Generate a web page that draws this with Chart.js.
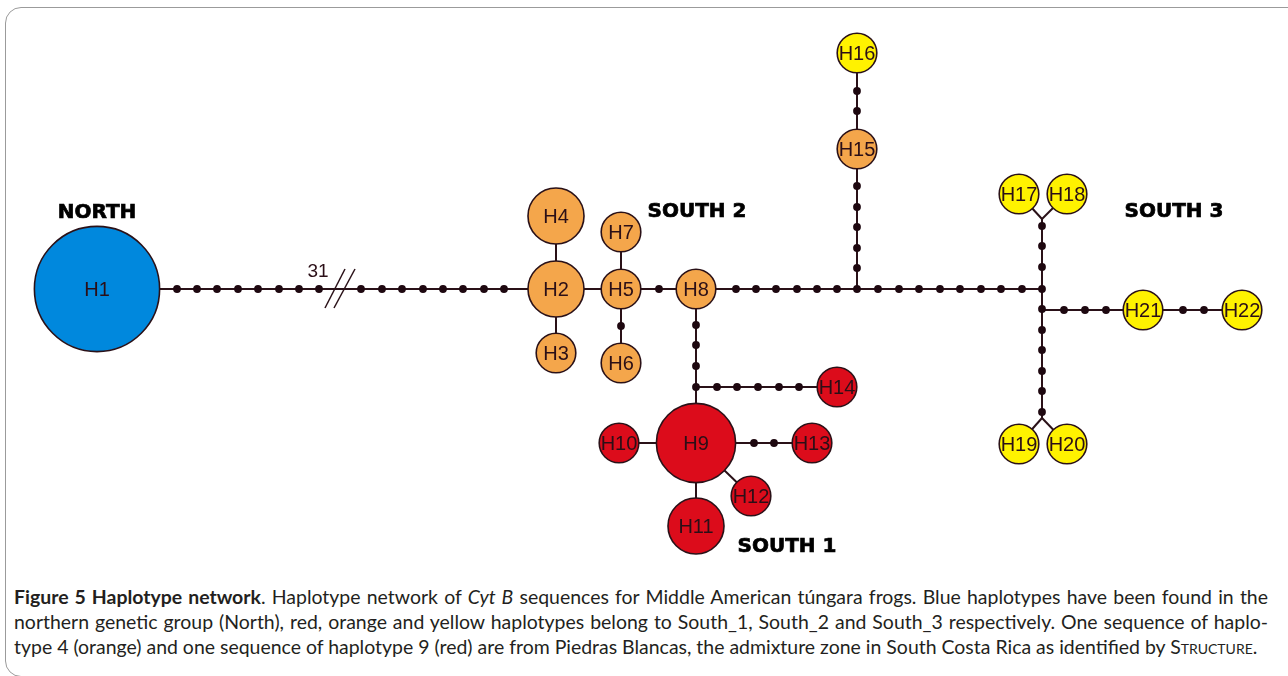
<!DOCTYPE html>
<html>
<head>
<meta charset="utf-8">
<title>Haplotype network</title>
<script src="https://cdn.jsdelivr.net/npm/chart.js@4.4.1/dist/chart.umd.min.js"></script>
<style>
  html, body { margin: 0; padding: 0; background: #fff; }
  body { width: 1288px; height: 676px; position: relative; overflow: hidden; }
  .frame {
    position: absolute; left: 5px; top: 7px; width: 1310px; height: 670px;
    border: 1px solid #9b9b9b; border-radius: 16px; box-sizing: border-box;
  }
  #networkChart { position: absolute; left: 0; top: 0; }
  .caption {
    position: absolute; left: 14px; top: 584px; width: 1260px;
    font-family: Lato, 'Open Sans', sans-serif; font-size: 16px; color: #231f20;
  }
  .caption .line { white-space: nowrap; line-height: 25px; height: 25px; }
  .caption .line span { display: inline-block; }
  .caption b { font-weight: 700; }
  .sc { font-variant: small-caps; }
</style>
</head>
<body>
<div class="frame"></div>
<canvas id="networkChart" width="1288" height="570"></canvas>
<div class="caption">
  <div class="line"><span><b>Figure 5 Haplotype network</b>. Haplotype network of <i>Cyt B</i> sequences for Middle American túngara frogs. Blue haplotypes have been found in the</span></div>
  <div class="line"><span>northern genetic group (North), red, orange and yellow haplotypes belong to South_1, South_2 and South_3 respectively. One sequence of haplo-</span></div>
  <div class="line"><span>type 4 (orange) and one sequence of haplotype 9 (red) are from Piedras Blancas, the admixture zone in South Costa Rica as identified by <span class="sc">Structure</span>.</span></div>
</div>
<script>
// Haplotypes, genetic group and relative frequency (node area)
const haplotypes = ['H1', 'H2', 'H3', 'H4', 'H5', 'H6', 'H7', 'H8', 'H9', 'H10', 'H11',
                    'H12', 'H13', 'H14', 'H15', 'H16', 'H17', 'H18', 'H19', 'H20', 'H21', 'H22'];
const groups = ['North', 'South_2', 'South_2', 'South_2', 'South_2', 'South_2', 'South_2', 'South_2',
                'South_1', 'South_1', 'South_1', 'South_1', 'South_1', 'South_1',
                'South_2', 'South_3', 'South_3', 'South_3', 'South_3', 'South_3', 'South_3', 'South_3'];
const frequency = [10, 2, 1, 2, 1, 1, 1, 1, 4, 1, 2, 1, 1, 1, 1, 1, 1, 1, 1, 1, 1, 1];

// Network layout
const nodeX = [97, 556, 556, 556, 621, 621, 621, 696, 696, 619, 696, 751, 812, 837, 857, 857, 1019, 1067, 1019, 1067, 1143, 1242];
const nodeY = [289, 289, 353, 216, 289, 363, 232, 289, 443, 443, 526, 496, 443, 387, 149, 53, 194, 194, 444, 444, 310, 310];

// Median / branching points
const junctions = ['J1', 'J2', 'J3', 'V1', 'J4', 'V2'];
const junctionX = [696, 857, 1042, 1042, 1042, 1042];
const junctionY = [387, 289, 289, 219, 310, 418];

// Connections
const links = [
  ['H1', 'H2'], ['H2', 'H4'], ['H2', 'H3'], ['H2', 'H5'], ['H5', 'H7'], ['H5', 'H6'], ['H5', 'H8'],
  ['H8', 'J1'], ['J1', 'H9'], ['J1', 'H14'], ['H9', 'H10'], ['H9', 'H13'], ['H9', 'H12'], ['H9', 'H11'],
  ['H8', 'J2'], ['J2', 'J3'], ['J2', 'H15'], ['H15', 'H16'],
  ['J3', 'V1'], ['V1', 'H17'], ['V1', 'H18'],
  ['J3', 'J4'], ['J4', 'V2'], ['V2', 'H19'], ['V2', 'H20'], ['J4', 'H21'], ['H21', 'H22']
];

// Mutational steps (small dots)
const stepX = [177, 197, 217, 238, 258, 279, 299, 319, 361, 382, 402, 423, 443, 463, 484, 504,
               659, 621,
               696, 696, 696, 696, 717, 737, 758, 779, 799, 754, 774,
               736, 756, 776, 797, 817, 837, 857, 878, 899, 919, 940, 960, 981, 1001, 1022, 1042,
               857, 857, 857, 857, 857, 857, 857,
               1042, 1042, 1042, 1042, 1042, 1042, 1042, 1042, 1042,
               1064, 1085, 1106, 1183, 1204];
const stepY = [289, 289, 289, 289, 289, 289, 289, 289, 289, 289, 289, 289, 289, 289, 289, 289,
               289, 326,
               325, 345, 366, 387, 387, 387, 387, 387, 387, 443, 443,
               289, 289, 289, 289, 289, 289, 289, 289, 289, 289, 289, 289, 289, 289, 289, 289,
               91, 111, 186, 207, 227, 248, 268,
               226, 246, 267, 309, 330, 350, 371, 391, 412,
               310, 310, 310, 310, 310];

// Group labels
const groupNames = ['NORTH', 'SOUTH 2', 'SOUTH 3', 'SOUTH 1'];
const groupLabelX = [97, 697, 1174, 787];
const groupLabelY = [213, 212, 212, 547];

const groupColors = { North: '#0088dd', South_1: '#dc0c1b', South_2: '#f4a64b', South_3: '#fff200' };
const lineColor = '#2a1118';
const textColor = '#2b0f17';

const pos = {};
haplotypes.forEach((h, i) => { pos[h] = { x: nodeX[i], y: nodeY[i] }; });
junctions.forEach((j, i) => { pos[j] = { x: junctionX[i], y: junctionY[i] }; });

const edgeSets = links.map(l => ({
    data: [pos[l[0]], pos[l[1]]],
    showLine: true,
    borderColor: lineColor,
    borderWidth: 2,
    pointRadius: 0,
    order: 3,
    clip: false
}));

// the "//" break on the long branch to the North
const breakSets = [[325, 308, 345, 269], [334, 308, 355, 269]].map(b => ({
    data: [{ x: b[0], y: b[1] }, { x: b[2], y: b[3] }],
    showLine: true,
    borderColor: lineColor,
    borderWidth: 1.5,
    pointRadius: 0,
    order: 3,
    clip: false
}));

const stepSet = {
    data: stepX.map((x, i) => ({ x: x, y: stepY[i] })),
    pointRadius: 3.9,
    pointBackgroundColor: '#1e0810',
    pointBorderWidth: 0,
    order: 2,
    clip: false
};

const nodeSet = {
    data: haplotypes.map((h, i) => ({ x: nodeX[i], y: nodeY[i] })),
    pointRadius: frequency.map(f => 19.8 * Math.sqrt(f)),
    pointHoverRadius: frequency.map(f => 19.8 * Math.sqrt(f)),
    pointBackgroundColor: groups.map(g => groupColors[g]),
    pointBorderColor: lineColor,
    pointBorderWidth: 1.6,
    order: 1,
    clip: false
};

const labelPlugin = {
    id: 'networkLabels',
    afterDatasetsDraw(chart) {
        const { ctx, scales: { x, y } } = chart;
        ctx.save();
        ctx.textAlign = 'center';
        ctx.textBaseline = 'middle';
        ctx.fillStyle = textColor;
        ctx.font = "20px 'Liberation Sans Narrow', 'Liberation Sans', Arial, sans-serif";
        haplotypes.forEach((h, i) => {
            ctx.fillText(h, x.getPixelForValue(nodeX[i]), y.getPixelForValue(nodeY[i]) + 1);
        });
        ctx.font = "19px 'Liberation Sans', Arial, sans-serif";
        ctx.fillText('31', x.getPixelForValue(318), y.getPixelForValue(272));
        // heavy group titles
        ctx.fillStyle = '#000';
        ctx.strokeStyle = '#000';
        ctx.lineWidth = 0.7;
        ctx.font = "bold 20px 'DejaVu Sans', sans-serif";
        groupNames.forEach((g, i) => {
            const px = x.getPixelForValue(groupLabelX[i]);
            const py = y.getPixelForValue(groupLabelY[i]);
            ctx.fillText(g, px, py);
            ctx.strokeText(g, px, py);
        });
        ctx.restore();
    }
};

const networkChart = new Chart(document.getElementById('networkChart').getContext('2d'), {
    type: 'scatter',
    data: { datasets: [nodeSet, stepSet].concat(breakSets, edgeSets) },
    options: {
        responsive: false,
        animation: false,
        devicePixelRatio: 1,
        events: [],
        layout: { autoPadding: false, padding: 0 },
        scales: {
            x: { type: 'linear', min: 0, max: 1288, display: false },
            y: { type: 'linear', min: 0, max: 570, reverse: true, display: false }
        },
        plugins: {
            legend: { display: false },
            tooltip: { enabled: false }
        }
    },
    plugins: [labelPlugin]
});

// Fit caption lines to the justified column
const spans = document.querySelectorAll('.caption .line > span');
const targets = [1254, 1254, 1241];
let scale = 10;
spans.forEach((s, i) => { scale = Math.min(scale, targets[i] / s.getBoundingClientRect().width); });
document.querySelector('.caption').style.fontSize = (16 * scale) + 'px';
spans.forEach((s, i) => {
    if (i < 2) {
        const gaps = s.textContent.split(' ').length - 1;
        const extra = (targets[i] - s.getBoundingClientRect().width) / gaps;
        s.style.wordSpacing = extra + 'px';
    }
});
</script>
</body>
</html>
